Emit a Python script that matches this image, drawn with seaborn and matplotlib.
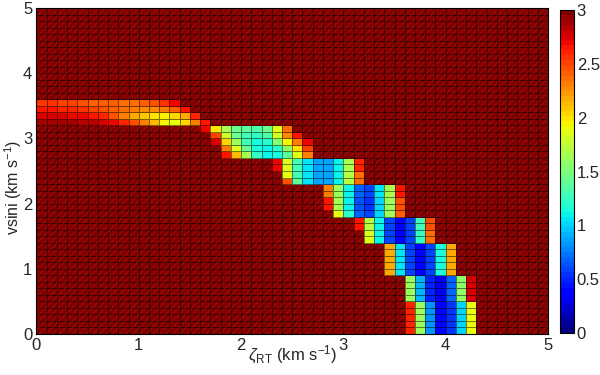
import numpy as np
import pandas as pd
import seaborn as sns
import matplotlib.pyplot as plt

# chi2 map on a 0.1 km/s grid (50 x 50 cells), colour scale clipped at 3
zeta = np.round(np.arange(0, 5, 0.1), 1)
vsini = np.round(np.arange(0, 5, 0.1), 1)
saturated = 3.0

# valley cells, read row by row: vsini row index, first zeta column, values
band_row = list(range(36))
band_first = [36, 36, 36, 36, 36,
              36, 36, 36, 36,
              34, 34, 34, 34, 34,
              32, 32, 31, 31,
              29, 28, 28, 28, 28,
              24, 24, 23, 23,
              18, 18, 17, 17, 16,
              0, 0, 0, 0]
band_vals = [
    [2.6, 1.6, 0.8, 0.4, 0.55, 1.0, 1.9],
    [2.6, 1.6, 0.8, 0.4, 0.55, 1.0, 1.9],
    [2.6, 1.6, 0.8, 0.4, 0.55, 1.0, 1.9],
    [2.6, 1.6, 0.8, 0.4, 0.55, 1.0, 1.9],
    [2.6, 1.6, 0.8, 0.4, 0.55, 1.0, 1.9],
    [1.6, 0.9, 0.5, 0.3, 0.7, 1.55, 2.75],
    [1.6, 0.9, 0.5, 0.3, 0.7, 1.55, 2.75],
    [1.6, 0.9, 0.5, 0.3, 0.7, 1.55, 2.75],
    [1.6, 0.9, 0.5, 0.3, 0.7, 1.55, 2.75],
    [2.2, 1.05, 0.6, 0.35, 0.6, 1.15, 2.2],
    [2.2, 1.05, 0.6, 0.35, 0.6, 1.15, 2.2],
    [2.2, 1.05, 0.6, 0.35, 0.6, 1.15, 2.2],
    [2.2, 1.05, 0.6, 0.35, 0.6, 1.15, 2.2],
    [2.2, 1.05, 0.6, 0.35, 0.6, 1.15, 2.2],
    [1.85, 1.1, 0.6, 0.35, 0.6, 1.25, 2.35],
    [1.85, 1.1, 0.6, 0.35, 0.6, 1.25, 2.35],
    [2.65, 1.7, 1.1, 0.6, 0.35, 0.6, 1.3, 2.45],
    [2.65, 1.7, 1.1, 0.6, 0.35, 0.6, 1.3, 2.45],
    [1.9, 1.2, 0.7, 0.6, 1.0, 1.6, 2.4],
    [2.65, 1.65, 1.1, 0.65, 0.55, 1.0, 1.6, 2.45],
    [2.65, 1.65, 1.1, 0.65, 0.55, 1.0, 1.6, 2.45],
    [2.3, 1.6, 1.1, 0.7, 0.6, 1.05, 1.65, 2.65],
    [2.3, 1.6, 1.1, 0.7, 0.6, 1.05, 1.65, 2.65],
    [2.45, 1.4, 1.05, 0.85, 0.85, 1.1, 1.7, 2.35],
    [1.9, 1.3, 1.05, 0.85, 0.85, 1.1, 1.7, 2.35],
    [2.7, 1.85, 1.3, 1.05, 0.85, 0.85, 1.1, 1.65, 2.6],
    [2.7, 1.85, 1.3, 1.05, 0.85, 0.85, 1.1, 1.65, 2.6],
    [2.65, 2.15, 1.65, 1.25, 1.1, 1.15, 1.4, 1.85, 2.3],
    [2.3, 1.85, 1.45, 1.15, 1.1, 1.2, 1.55, 2.0, 2.5],
    [2.75, 2.05, 1.6, 1.3, 1.15, 1.2, 1.5, 1.95, 2.3, 2.7],
    [2.5, 1.8, 1.45, 1.3, 1.25, 1.35, 1.8, 2.25, 2.65],
    [2.7, 2.0, 1.65, 1.45, 1.4, 1.35, 1.45, 1.85, 2.35],
    [2.9, 2.9, 2.9, 2.9, 2.85, 2.85, 2.75, 2.7, 2.6, 2.45, 2.3, 2.15, 1.95, 1.9, 2.05, 2.3, 2.65],
    [2.75, 2.75, 2.75, 2.7, 2.7, 2.65, 2.6, 2.45, 2.3, 2.2, 2.1, 2.0, 1.95, 2.05, 2.2, 2.6],
    [2.65, 2.65, 2.6, 2.6, 2.55, 2.5, 2.45, 2.4, 2.35, 2.3, 2.25, 2.25, 2.3, 2.4, 2.65],
    [2.55, 2.55, 2.5, 2.5, 2.45, 2.4, 2.4, 2.4, 2.35, 2.35, 2.4, 2.45, 2.55, 2.7],
]

z = np.full((len(vsini), len(zeta)), saturated)
for r, c0, vals in zip(band_row, band_first, band_vals):
    z[r, c0:c0 + len(vals)] = vals
df = pd.DataFrame(z, index=vsini, columns=zeta)

tick_vals = [0, 1, 2, 3, 4, 5]
cbar_ticks = [0, 0.5, 1, 1.5, 2, 2.5, 3]

sns.set_style("white")
plt.rcParams['font.family'] = ['Liberation Sans', 'DejaVu Sans']
plt.rcParams['mathtext.fontset'] = 'custom'
plt.rcParams['mathtext.rm'] = 'Liberation Sans'
plt.rcParams['mathtext.it'] = 'Liberation Sans:italic'
plt.rcParams['hatch.linewidth'] = 0.6

fig = plt.figure(figsize=(6, 3.75), dpi=100)
ax = fig.add_axes([0.0607, 0.1093, 0.8527, 0.8693])
cax = fig.add_axes([0.9333, 0.1120, 0.0233, 0.8613])

sns.heatmap(df, ax=ax, cbar_ax=cax, cmap=plt.get_cmap('jet', 64), vmin=0, vmax=3,
            linewidths=0.5, linecolor=(0, 0, 0, 0.5),
            xticklabels=False, yticklabels=False)
ax.invert_yaxis()

# faint diagonal texture over the clipped cells, like the original render
flat = np.ma.masked_less(z, saturated - 1e-6)
hat = ax.pcolor(np.arange(len(zeta) + 1), np.arange(len(vsini) + 1), flat,
                facecolor='none', edgecolor=(0.85, 0.2, 0.15, 0.35), linewidth=0.01)
hat.set_hatch('/////')

step = len(zeta) // 5
ax.set_xticks([v * step for v in tick_vals])
ax.set_xticklabels([str(v) for v in tick_vals])
ax.set_yticks([v * step for v in tick_vals])
ax.set_yticklabels([str(v) for v in tick_vals])
ax.tick_params(direction='in', length=4, width=0.6, labelsize=12, pad=3)
for s in ax.spines.values():
    s.set_visible(True)
    s.set_color('black')
    s.set_linewidth(0.8)

ax.set_xlabel(r"$\zeta_{\mathrm{RT}}$ (km s$^{-1}$)", fontsize=12)
ax.xaxis.set_label_coords(0.5, -0.03)
ax.set_ylabel(r"vsini (km s$^{-1}$)", fontsize=11.5)
ax.yaxis.set_label_coords(-0.024, 0.45)

cb = ax.collections[0].colorbar
cb.set_ticks(cbar_ticks)
cb.set_ticklabels(['0', '0.5', '1', '1.5', '2', '2.5', '3'])
cb.outline.set_linewidth(0.8)
cb.outline.set_edgecolor('black')
cax.tick_params(direction='in', length=3, width=0.6, labelsize=12, pad=2)

fig.savefig('out.png', dpi=100)
